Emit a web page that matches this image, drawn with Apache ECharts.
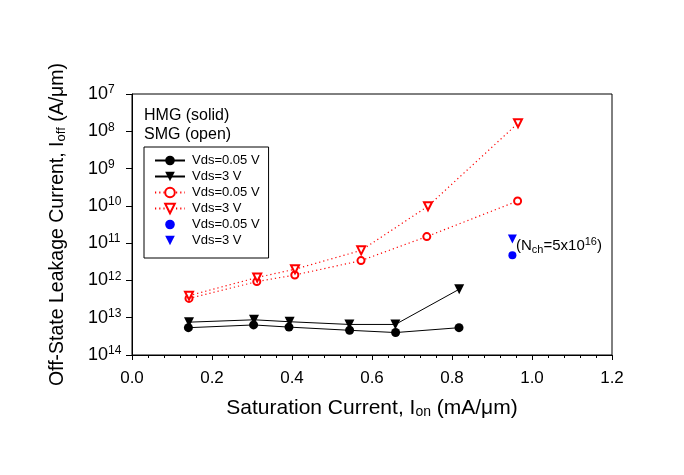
<!DOCTYPE html>
<html><head><meta charset="utf-8">
<script src="https://cdn.jsdelivr.net/npm/echarts@6/dist/echarts.min.js"></script>
<style>html,body{margin:0;padding:0;background:#fff}#c{width:684px;height:475px}</style>
</head><body><div id="c"></div>
<script>
const xTicks = ['0.0','0.2','0.4','0.6','0.8','1.0','1.2'];
const yTickExp = ['7','8','9','10','11','12','13','14'];
const hmgX05 = [0.141,0.304,0.3925,0.544,0.659,0.8175];
const hmgY05 = [5.4e-14,6.4e-14,5.6e-14,4.6e-14,4.0e-14,5.4e-14];
const hmgX3 = [0.1425,0.305,0.394,0.5435,0.6585,0.818];
const hmgY3 = [7.6e-14,8.8e-14,7.8e-14,6.6e-14,6.6e-14,5.8e-13];
const smgX05 = [0.1425,0.312,0.407,0.5725,0.737,0.964];
const smgY05 = [3.3e-13,9.3e-13,1.4e-12,3.4e-12,1.5e-11,1.35e-10];
const smgX3 = [0.1425,0.313,0.4075,0.573,0.74,0.965];
const smgY3 = [3.9e-13,1.2e-12,2.0e-12,6.4e-12,9.8e-11,1.65e-8];
const blueX05 = [0.951];
const blueY05 = [4.7e-12];
const blueX3 = [0.951];
const blueY3 = [1.3e-11];
const legendLabels = {
  'HMG 0.05':'Vds=0.05 V','HMG 3':'Vds=3 V',
  'SMG 0.05':'Vds=0.05 V','SMG 3':'Vds=3 V',
  'N 0.05':'Vds=0.05 V','N 3':'Vds=3 V'
};
const zip = (xs, ys) => xs.map((x, i) => [x, ys[i]]);
const FONT = 'Liberation Sans, Arial, sans-serif';

const chart = echarts.init(document.getElementById('c'));
chart.setOption({
  animation: false,
  backgroundColor: '#fff',
  textStyle: { fontFamily: FONT },
  grid: { left: 132, right: 72, top: 94, bottom: 120, show: true, borderColor: '#000', borderWidth: 1 },
  legend: {
    left: 144, top: 147, orient: 'vertical',
    data: ['HMG 0.05','HMG 3','SMG 0.05','SMG 3','N 0.05','N 3'],
    formatter: n => legendLabels[n],
    itemWidth: 30, itemHeight: 12, itemGap: 3,
    padding: [7, 9, 11, 10],
    borderColor: '#000', borderWidth: 1,
    textStyle: { fontFamily: FONT, fontSize: 13, color: '#000', lineHeight: 12, padding: [0,0,0,2] }
  },
  xAxis: {
    type: 'value', min: 0, max: 1.2, interval: 0.2,
    name: 'Saturation Current, I{sub|on} (mA/μm)',
    nameLocation: 'middle', nameGap: 43,
    nameTextStyle: { fontFamily: FONT, fontSize: 21, color: '#000',
      rich: { sub: { fontSize: 14, verticalAlign: 'bottom', padding: [7,0,0,0] } } },
    axisLine: { lineStyle: { color: '#000', width: 1 } },
    axisTick: { show: true, inside: false, length: 5, lineStyle: { color: '#000' } },
    minorTick: { show: true, splitNumber: 5, length: 3, lineStyle: { color: '#000' } },
    splitLine: { show: false },
    axisLabel: { margin: 15, fontSize: 17, color: '#000', fontFamily: FONT,
      formatter: v => xTicks[Math.round(v / 0.2)] }
  },
  yAxis: {
    type: 'log', logBase: 10, min: 1e-14, max: 1e-7,
    name: 'Off-State Leakage Current, I{sub|off} (A/μm)',
    nameLocation: 'middle', nameGap: 64, nameRotate: 90,
    nameTextStyle: { fontFamily: FONT, fontSize: 19.5, color: '#000',
      rich: { sub: { fontSize: 13, verticalAlign: 'bottom', padding: [7,0,0,0] } } },
    axisLine: { show: true, lineStyle: { color: '#000', width: 1 } },
    axisTick: { show: true, inside: false, length: 6, lineStyle: { color: '#000' } },
    minorTick: { show: false },
    splitLine: { show: false },
    axisLabel: { margin: 44, align: 'left', color: '#000', fontFamily: FONT,
      formatter: v => {
        const e = Math.round(-Math.log10(v));
        const lab = yTickExp[e - 7];
        return '{b|10}{s|' + lab + '}';
      },
      rich: {
        b: { fontSize: 18, color: '#000', fontFamily: FONT, lineHeight: 20 },
        s: { fontSize: 12, color: '#000', fontFamily: FONT, verticalAlign: 'top', padding: [0,0,6,0] }
      }
    }
  },
  graphic: [
    { type: 'text', left: 144, top: 108, style: { text: 'HMG (solid)', fontSize: 16, fontFamily: FONT, fill: '#000' } },
    { type: 'text', left: 144, top: 127, style: { text: 'SMG (open)', fontSize: 16, fontFamily: FONT, fill: '#000' } },
    { type: 'text', left: 516, top: 236, style: {
      text: '(N{sub|ch}=5x10{sup|16})', fontSize: 15, fontFamily: FONT, fill: '#000',
      rich: {
        sub: { fontSize: 11, fontFamily: FONT, fill: '#000', verticalAlign: 'bottom', padding: [8,0,0,0] },
        sup: { fontSize: 11, fontFamily: FONT, fill: '#000', verticalAlign: 'top', padding: [0,0,6,0] }
      } } }
  ],
  series: [
    { name: 'HMG 0.05', type: 'line', data: zip(hmgX05, hmgY05), symbol: 'circle', symbolSize: 9,
      itemStyle: { color: '#000' }, lineStyle: { color: '#000', width: 1 } },
    { name: 'HMG 3', type: 'line', data: zip(hmgX3, hmgY3), symbol: 'triangle', symbolRotate: 180, symbolSize: 10,
      itemStyle: { color: '#000' }, lineStyle: { color: '#000', width: 1 } },
    { name: 'SMG 0.05', type: 'line', data: zip(smgX05, smgY05), symbol: 'emptyCircle', symbolSize: 7,
      itemStyle: { color: '#ff0000', borderWidth: 1 }, lineStyle: { color: '#ff0000', width: 1.2, type: [1.2, 3] } },
    { name: 'SMG 3', type: 'line', data: zip(smgX3, smgY3), symbol: 'emptyTriangle', symbolRotate: 180, symbolSize: 8,
      itemStyle: { color: '#ff0000', borderWidth: 1 }, lineStyle: { color: '#ff0000', width: 1.2, type: [1.2, 3] } },
    { name: 'N 0.05', type: 'line', data: zip(blueX05, blueY05), symbol: 'circle', symbolSize: 8,
      itemStyle: { color: '#0000ff' }, lineStyle: { opacity: 0, width: 0 } },
    { name: 'N 3', type: 'line', data: zip(blueX3, blueY3), symbol: 'triangle', symbolRotate: 180, symbolSize: 9,
      itemStyle: { color: '#0000ff' }, lineStyle: { opacity: 0, width: 0 } }
  ]
});
</script></body></html>
